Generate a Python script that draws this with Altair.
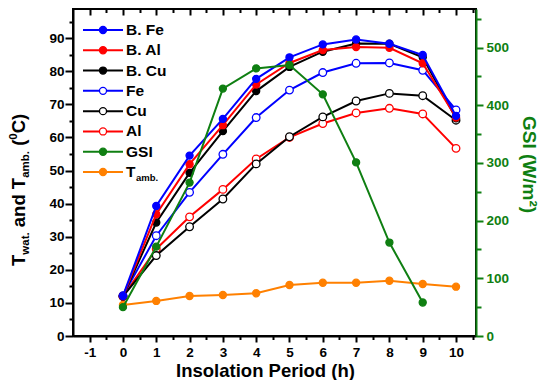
import altair as alt
import pandas as pd

# ---------------- data ----------------
hours = [0, 1, 2, 3, 4, 5, 6, 7, 8, 9, 10]
gsi_hours = [0, 1, 2, 3, 4, 5, 6, 7, 8, 9]

b_fe = [12.1, 39.3, 54.5, 65.6, 77.7, 84.2, 88.1, 89.6, 88.3, 84.9, 66.5]
b_al = [12.0, 36.8, 51.9, 63.7, 76.0, 82.5, 86.4, 87.3, 87.1, 82.4, 66.0]
b_cu = [12.0, 34.3, 49.3, 61.9, 74.0, 81.3, 85.9, 88.4, 88.3, 84.2, 65.8]
fe = [12.2, 30.3, 43.4, 54.9, 66.0, 74.3, 79.6, 82.4, 82.5, 80.3, 68.3]
cu = [12.0, 24.3, 33.0, 41.4, 52.0, 60.2, 66.2, 71.0, 73.3, 72.6, 65.2]
al = [12.0, 26.3, 36.0, 44.3, 53.5, 60.0, 64.2, 67.4, 68.8, 67.1, 56.7]
t_amb = [9.4, 10.6, 12.1, 12.4, 12.9, 15.4, 16.1, 16.1, 16.7, 15.7, 14.9]
gsi = [50, 155, 266, 429, 464, 470, 419, 301, 162, 58]

series_names = ["B. Fe", "B. Al", "B. Cu", "Fe", "Cu", "Al", "GSI", "T amb."]
legend_labels = ["B. Fe", "B. Al", "B. Cu", "Fe", "Cu", "Al", "GSI", "T"]

x_tick_values = [v / 2 for v in range(-2, 22)]          # -1 .. 10.5 step 0.5
y_tick_values = [v * 5 for v in range(0, 20)]           # 0 .. 95 step 5
gsi_tick_values = [v * 50 for v in range(0, 12)]        # 0 .. 550 step 50

# ---------------- styles ----------------
BLUE, RED, BLACK, GREEN, ORANGE = "#0000ff", "#ff0000", "#000000", "#0f7f12", "#ff8000"
style = {
    "B. Fe": (BLUE, True), "B. Al": (RED, True), "B. Cu": (BLACK, True),
    "Fe": (BLUE, False), "Cu": (BLACK, False), "Al": (RED, False),
    "GSI": (GREEN, True), "T amb.": (ORANGE, True),
}
FONT = "Liberation Sans"

temp_values = {"B. Fe": b_fe, "B. Al": b_al, "B. Cu": b_cu, "Fe": fe,
               "Cu": cu, "Al": al, "T amb.": t_amb}
draw_order = ["T amb.", "Al", "Cu", "Fe", "B. Cu", "B. Al", "B. Fe"]

X_DOMAIN = [-1.5, 10.6]
Y_DOMAIN = [0, 98.8]
G_DOMAIN = [0, 567]

x_bottom_axis = alt.Axis(
    values=x_tick_values, title="Insolation Period (h)",
    labelExpr="datum.value % 1 != 0 ? '' : '' + datum.value",
    tickSize={"condition": {"test": "datum.value % 1 != 0", "value": 3.5}, "value": 6},
    labelOverlap=False, labelFlush=False, labelPadding=3, titlePadding=3,
    titleFontSize=18.5, titleX=192, grid=False,
)
y_left_axis = alt.Axis(
    values=y_tick_values, title=None,
    labelExpr="datum.value % 10 != 0 ? '' : '' + datum.value",
    tickSize={"condition": {"test": "datum.value % 10 != 0", "value": 4}, "value": 8},
    labelOverlap=False, labelFlush=False, labelPadding=1, grid=False,
)
x_top_axis = alt.Axis(
    orient="top", values=x_tick_values, labels=False, domain=False, title=None,
    offset=-6, tickSize=6, tickColor="black", grid=False,
    tickDash={"condition": {"test": "datum.value % 1 != 0", "value": [0, 2.5, 20]}, "value": [20, 0]},
)
y_right_axis = alt.Axis(
    orient="right", values=gsi_tick_values, title="GSI (W/m²)",
    labelExpr="datum.value % 100 != 0 ? '' : '' + datum.value",
    tickSize={"condition": {"test": "datum.value % 100 != 0", "value": 5}, "value": 7},
    labelOverlap=False, labelFlush=False, labelPadding=3, titlePadding=10,
    domainColor=GREEN, tickColor=GREEN, labelColor=GREEN, titleColor=GREEN,
    titleFontSize=19, titleY=155, grid=False,
)

xs = alt.Scale(domain=X_DOMAIN, nice=False, zero=False)
ys = alt.Scale(domain=Y_DOMAIN, nice=False, zero=False)
gs = alt.Scale(domain=G_DOMAIN, nice=False, zero=False)

# ---------------- temperature layers ----------------
temp_layers = []
for name in draw_order:
    col, filled = style[name]
    df = pd.DataFrame({"h": hours, "v": temp_values[name]})
    base = alt.Chart(df).encode(
        x=alt.X("h:Q", scale=xs, axis=x_bottom_axis),
        y=alt.Y("v:Q", scale=ys, axis=y_left_axis),
    )
    temp_layers.append(base.mark_line(color=col, strokeWidth=2))
    temp_layers.append(base.mark_point(
        shape="circle", size=50 if filled else 58, opacity=1,
        stroke=col, strokeWidth=1.3, fill=col if filled else "white", filled=False))
temps = alt.layer(*temp_layers)

# ---------------- GSI layer (right axis) ----------------
gdf = pd.DataFrame({"h": gsi_hours, "g": gsi})
gbase = alt.Chart(gdf).encode(
    x=alt.X("h:Q", scale=xs, axis=x_top_axis),
    y=alt.Y("g:Q", scale=gs, axis=y_right_axis),
)
gsi_layer = alt.layer(
    gbase.mark_line(color=GREEN, strokeWidth=2),
    gbase.mark_point(shape="circle", size=50, opacity=1, stroke=GREEN,
                     strokeWidth=1.3, fill=GREEN, filled=False),
)

# ---------------- manual legend ----------------
leg_df = pd.DataFrame({
    "name": series_names,
    "label": legend_labels,
    "idx": list(range(len(series_names))),
})
leg_colors = [style[n][0] for n in series_names]
leg_fills = [style[n][0] if style[n][1] else "white" for n in series_names]
leg_y = alt.Y("idx:Q", scale=alt.Scale(domain=[0, 7], range=[21, 163]), axis=None)
leg_color = alt.Color("name:N", scale=alt.Scale(domain=series_names, range=leg_colors), legend=None)
leg_fill = alt.Fill("name:N", scale=alt.Scale(domain=series_names, range=leg_fills), legend=None)
lbase = alt.Chart(leg_df)
legend = alt.layer(
    lbase.mark_rule(strokeWidth=2).encode(x=alt.value(10), x2=alt.value(50), y=leg_y, color=leg_color),
    lbase.mark_point(shape="circle", size=50, opacity=1, strokeWidth=1.3, filled=False).encode(
        x=alt.value(30), y=leg_y, stroke=alt.Stroke("name:N", scale=alt.Scale(domain=series_names, range=leg_colors), legend=None),
        fill=leg_fill),
    lbase.mark_text(align="left", baseline="middle", font=FONT, fontSize=15.5, fontWeight="bold", color="black").encode(
        x=alt.value(53), y=leg_y, text="label:N"),
    lbase.transform_filter("datum.idx == 7").mark_text(
        align="left", baseline="middle", font=FONT, fontSize=9.5, fontWeight="bold", color="black", dy=6).encode(
        x=alt.value(63), y=leg_y, text=alt.value("amb.")),
)

# ---------------- left axis title with sub/superscripts ----------------
ARIAL_B = {"T": .611, "w": .778, "a": .556, "t": .333, ".": .278, " ": .278, "n": .611,
           "d": .611, "m": .889, "b": .611, "(": .333, ")": .333, "0": .556, "C": .722}
MAIN, SUB = 18.5, 11.5
pieces = [("T", MAIN, 0), ("wat.", SUB, 4), (" and T", MAIN, 0), ("amb.", SUB, 4),
          (" (", MAIN, 0), ("0", SUB, -8), ("C)", MAIN, 0)]
base_x = -48
cursor = 257
title_layers = []
one = pd.DataFrame({"a": [0]})
for txt, fs, shift in pieces:
    # leading spaces collapse in SVG text: advance the cursor instead
    while txt.startswith(" "):
        cursor -= ARIAL_B[" "] * fs
        txt = txt[1:]
    title_layers.append(
        alt.Chart(one).mark_text(text=txt, angle=270, align="left", baseline="alphabetic",
                                 font=FONT, fontSize=fs, fontWeight="bold", color="black")
        .encode(x=alt.value(base_x + shift), y=alt.value(cursor))
    )
    cursor -= sum(ARIAL_B[c] for c in txt) * fs
titles = alt.layer(*title_layers)

chart = (
    alt.layer(temps, gsi_layer, legend, titles)
    .resolve_scale(y="independent")
    .resolve_axis(x="independent", y="independent")
    .properties(width=403, height=327,
                padding={"left": 65, "top": 1, "right": 66, "bottom": 44},
                autosize=alt.AutoSizeParams(type="none"))
    .configure_view(stroke="black", strokeWidth=2)
    .configure_axis(labelFont=FONT, titleFont=FONT, labelFontWeight="bold", titleFontWeight="bold",
                    labelFontSize=13.5, labelColor="black", titleColor="black",
                    domainColor="black", domainWidth=2, tickColor="black", tickWidth=2)
)

chart.save("out.html", embed_options={"renderer": "svg", "actions": False})
